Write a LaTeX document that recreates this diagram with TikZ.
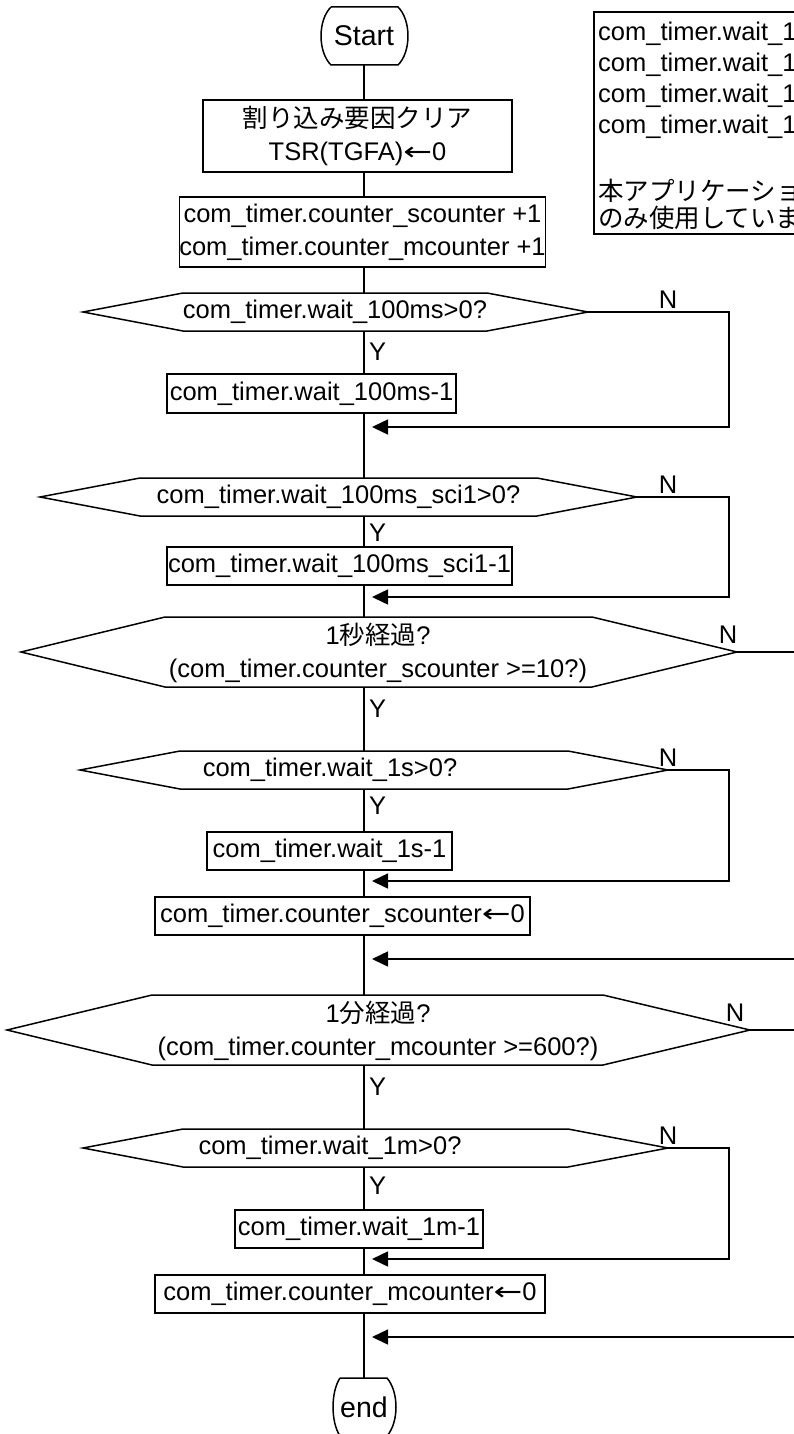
\documentclass[tikz,border=0pt]{standalone}
\usepackage{fontspec}
\usepackage{graphicx}
\setmainfont{Liberation Sans}
\newfontfamily\jp{Noto Sans CJK JP}
\newfontfamily\dv{DejaVu Sans}
\newcommand{\larr}{\scalebox{1.35}[1]{\dv ←}}
\usetikzlibrary{arrows.meta}
\begin{document}
\begin{tikzpicture}[x=1pt,y=-1pt,
  every node/.style={font=\fontsize{25.5}{33}\selectfont, inner sep=0pt, align=center},
  ln/.style={line width=1.5pt, black},
  proc/.style={draw, line width=1.5pt, rectangle, minimum height=38pt},
  arr/.style={ln, -{Triangle[length=16pt,width=15pt]}, shorten >=8pt},
  term/.style={font=\fontsize{28.5}{33}\selectfont},
  lbl/.style={anchor=west}]
\useasboundingbox (0,0) rectangle (794,1434);
\clip (0,0) rectangle (794,1434);

% ---- note box (top right, cut by the edge)
\draw[ln] (810,12) -- (594,12) -- (594,234) -- (810,234);
\node[anchor=west] (n1) at (598,34) {com\_timer.wait\_1};
\node[anchor=west] (n2) at (598,65) {com\_timer.wait\_1};
\node[anchor=west] (n3) at (598,96) {com\_timer.wait\_1};
\node[anchor=west] (n4) at (598,127) {com\_timer.wait\_1};
\node[anchor=west] (n5) at (598,191) {\jp 本アプリケーショ};
\node[anchor=west] (n6) at (598,218) {\jp のみ使用していま};

% ---- start
\node[term] (start) at (364,36) {Start};
\draw[ln] (331,7) -- (398,7) .. controls (411.3,20) and (411.3,52) .. (398,65)
  -- (331,65) .. controls (317.7,52) and (317.7,20) .. (331,7);
\coordinate (startb) at (364,65);

% ---- boxes
\node[proc, minimum width=309pt, minimum height=72pt] (b1) at (357.5,136)
  {{\jp 割り込み要因クリア}\\TSR(TGFA)\larr 0};
\node[proc, minimum width=365pt, minimum height=70pt] (b2) at (362.5,232)
  {com\_timer.counter\_scounter +1\\com\_timer.counter\_mcounter +1};

% ---- decision 1
\draw[ln] (83,312) -- (183,293) -- (487,293) -- (588,312) -- (487,331) -- (183,331) -- cycle;
\node (d1) at (335,312) {com\_timer.wait\_100ms>0?};
\coordinate (d1t) at (364,293); \coordinate (d1b) at (364,331); \coordinate (d1r) at (588,312);
\node[proc, minimum width=289pt, minimum height=39pt] (b3) at (311.5,393.5) {com\_timer.wait\_100ms-1};
\coordinate (a1) at (364,427);

% ---- decision 2
\draw[ln] (40,497) -- (140,478) -- (537,478) -- (637,497) -- (537,516) -- (140,516) -- cycle;
\node (d2) at (338.5,497) {com\_timer.wait\_100ms\_sci1>0?};
\coordinate (d2t) at (364,478); \coordinate (d2b) at (364,516); \coordinate (d2r) at (637,497);
\node[proc, minimum width=345pt] (b4) at (339.5,566) {com\_timer.wait\_100ms\_sci1-1};
\coordinate (a2) at (364,597);

% ---- decision 3
\draw[ln] (21,652) -- (165,617) -- (592,617) -- (737,652) -- (592,687) -- (165,687) -- cycle;
\node (d3) at (378,653) {1{\jp 秒経過}?\\(com\_timer.counter\_scounter >=10?)};
\coordinate (d3t) at (364,617); \coordinate (d3b) at (364,687); \coordinate (d3r) at (737,652);

% ---- decision 4
\draw[ln] (80,770) -- (180,751) -- (568,751) -- (668,770) -- (568,789) -- (180,789) -- cycle;
\node (d4) at (330,770) {com\_timer.wait\_1s>0?};
\coordinate (d4t) at (364,751); \coordinate (d4b) at (364,789); \coordinate (d4r) at (668,770);
\node[proc, minimum width=245pt] (b5) at (329.5,851) {com\_timer.wait\_1s-1};
\coordinate (a4) at (364,881);
\node[proc, minimum width=375pt] (b6) at (342.5,916) {com\_timer.counter\_scounter\larr 0};
\coordinate (a3) at (364,959);

% ---- decision 5
\draw[ln] (7,1030) -- (152,995) -- (603,995) -- (750,1030) -- (603,1065) -- (152,1065) -- cycle;
\node (d5) at (378,1031) {1{\jp 分経過}?\\(com\_timer.counter\_mcounter >=600?)};
\coordinate (d5t) at (364,995); \coordinate (d5b) at (364,1065); \coordinate (d5r) at (750,1030);

% ---- decision 6
\draw[ln] (83,1148) -- (183,1129) -- (568,1129) -- (668,1148) -- (568,1167) -- (183,1167) -- cycle;
\node (d6) at (330,1148) {com\_timer.wait\_1m>0?};
\coordinate (d6t) at (364,1129); \coordinate (d6b) at (364,1167); \coordinate (d6r) at (668,1148);
\node[proc, minimum width=248pt] (b7) at (359,1229) {com\_timer.wait\_1m-1};
\coordinate (a6) at (364,1259);
\node[proc, minimum width=390pt] (b8) at (350,1294) {com\_timer.counter\_mcounter\larr 0};
\coordinate (a5) at (364,1337);

% ---- end
\node[term] (end) at (364,1407) {end};
\draw[ln] (340,1378) -- (387,1378) .. controls (399,1392) and (399,1422) .. (387,1436)
  -- (340,1436) .. controls (330.7,1422) and (330.7,1392) .. (340,1378);
\coordinate (endt) at (364,1378);

% ---- main line
\draw[ln] (startb) -- (startb |- b1.north);
\draw[ln] (startb |- b1.south) -- (startb |- b2.north);
\draw[ln] (startb |- b2.south) -- (d1t);
\draw[ln] (d1b) -- (d1b |- b3.north);
\draw[ln] (d1b |- b3.south) -- (d2t);
\draw[ln] (d2b) -- (d2b |- b4.north);
\draw[ln] (d2b |- b4.south) -- (d3t);
\draw[ln] (d3b) -- (d4t);
\draw[ln] (d4b) -- (d4b |- b5.north);
\draw[ln] (d4b |- b5.south) -- (d4b |- b6.north);
\draw[ln] (d4b |- b6.south) -- (d5t);
\draw[ln] (d5b) -- (d6t);
\draw[ln] (d6b) -- (d6b |- b7.north);
\draw[ln] (d6b |- b7.south) -- (d6b |- b8.north);
\draw[ln] (d6b |- b8.south) -- (endt);

% ---- N branches
\draw[arr] (d1r) -- (729,312) |- (a1);
\draw[arr] (d2r) -- (729,497) |- (a2);
\draw[ln] (d3r) -- (810,652);
\draw[arr] (810,959) -- (a3);
\draw[arr] (d4r) -- (729,770) |- (a4);
\draw[ln] (d5r) -- (810,1030);
\draw[arr] (810,1337) -- (a5);
\draw[arr] (d6r) -- (729,1148) |- (a6);

% ---- labels
\node (n1l) at (668,300) {N};
\node (n2l) at (668,485) {N};
\node (n3l) at (728,635) {N};
\node (n4l) at (668,758) {N};
\node (n5l) at (735,1013) {N};
\node (n6l) at (668,1136) {N};
\node[lbl] (y1) at (369,352) {Y};
\node[lbl] (y2) at (369,533) {Y};
\node[lbl] (y3) at (369,709) {Y};
\node[lbl] (y4) at (369,806) {Y};
\node[lbl] (y5) at (369,1087) {Y};
\node[lbl] (y6) at (369,1186) {Y};
\end{tikzpicture}
\end{document}
